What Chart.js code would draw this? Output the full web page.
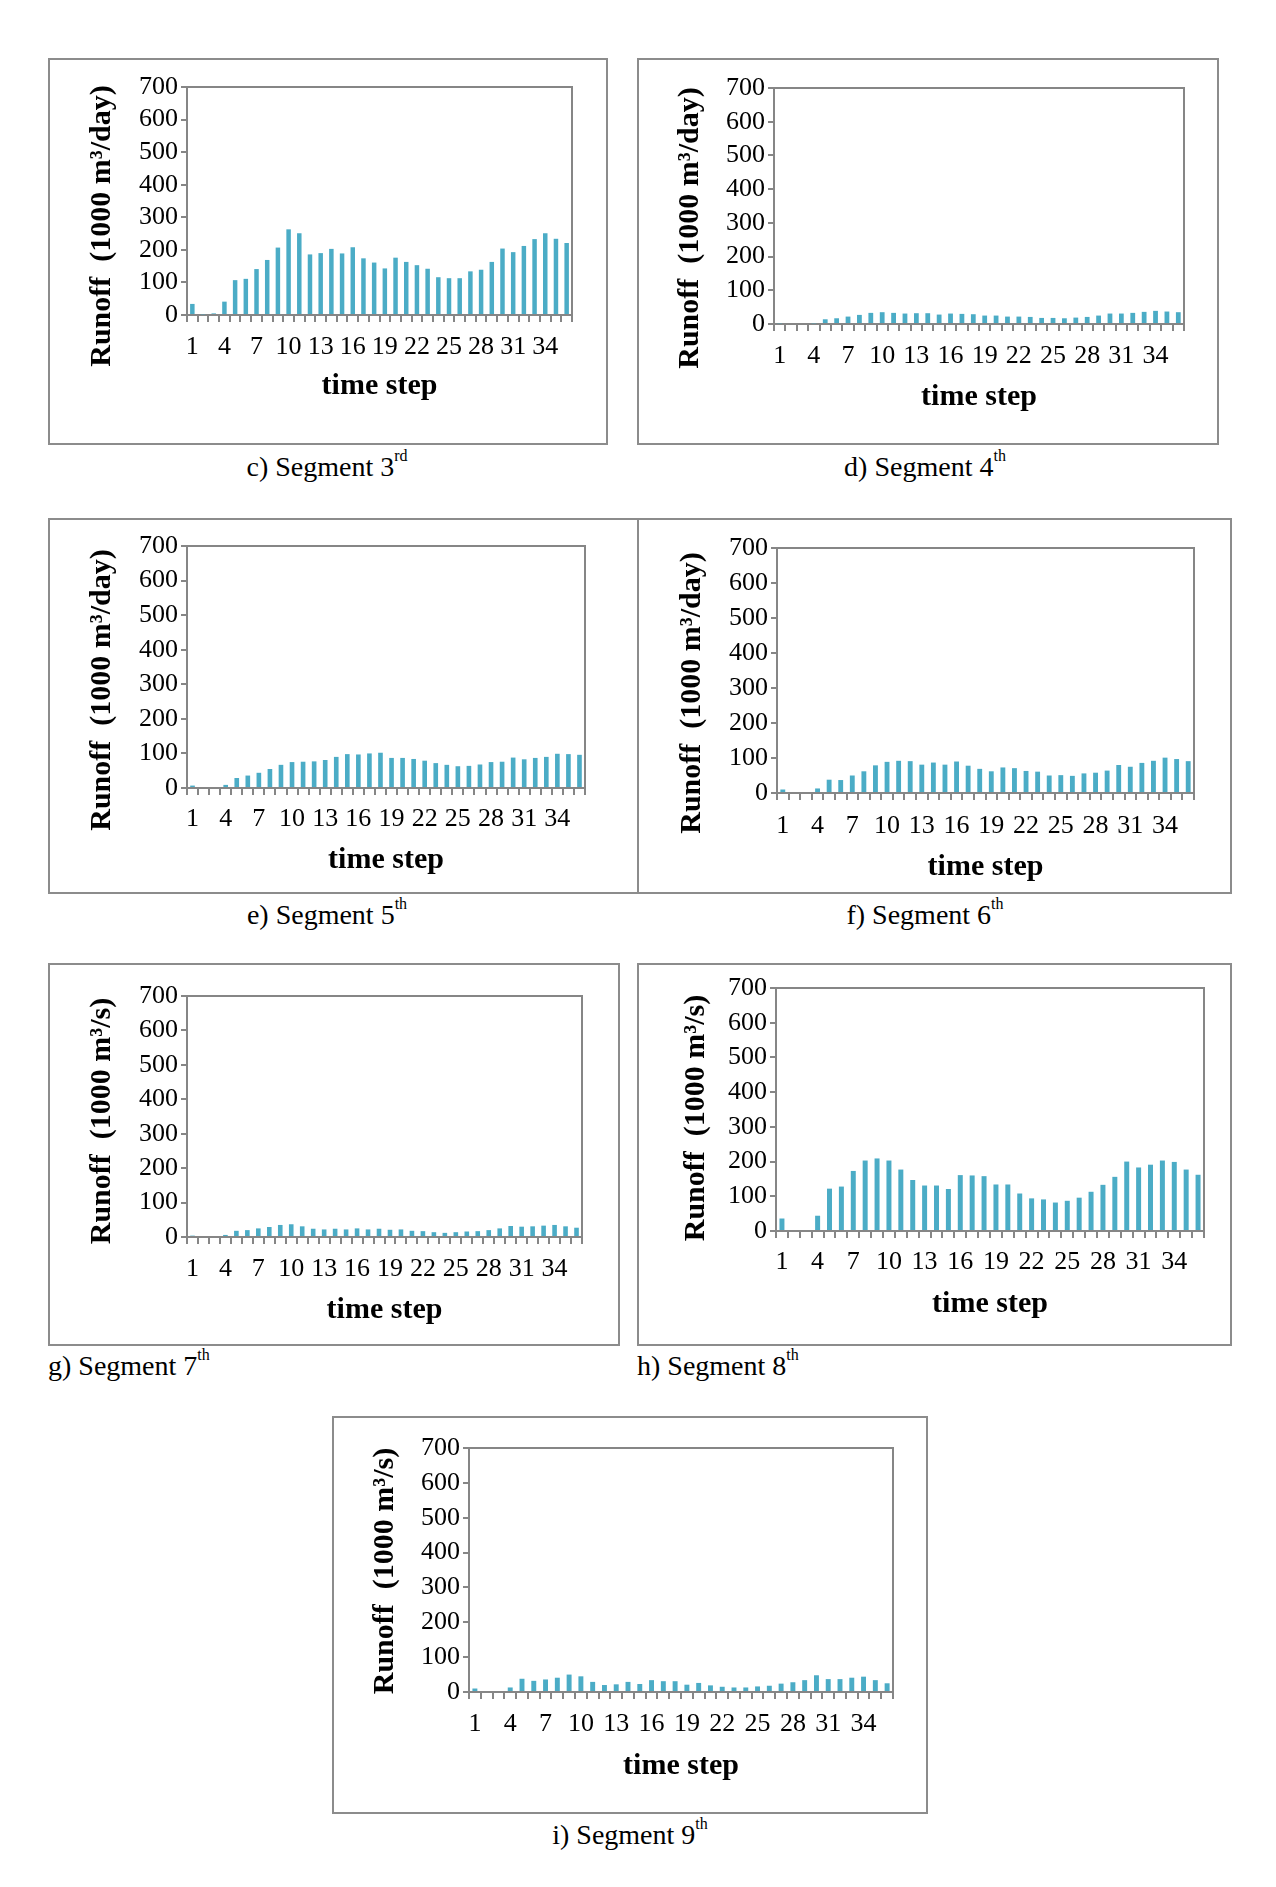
<!DOCTYPE html>
<html>
<head>
<meta charset="utf-8">
<script src="https://cdn.jsdelivr.net/npm/chart.js@4.4.1/dist/chart.umd.min.js"></script>
<style>
  body { margin: 0; background: #fff; width: 1276px; height: 1887px; position: relative; font-family: "Liberation Serif", "Times New Roman", serif; }
  .box { position: absolute; border: 2px solid #8c8c8c; box-sizing: border-box; }
  .box canvas { position: absolute; left: 0; top: 0; }
  .cap { position: absolute; font-size: 28px; white-space: nowrap; line-height: 1; color: #000; }
  .cap sup { font-size: 16px; vertical-align: top; position: relative; top: -5px; }
</style>
</head>
<body>
<script>
// time steps and visible tick labels
const timeSteps = ['1','2','3','4','5','6','7','8','9','10','11','12','13','14','15','16','17','18',
  '19','20','21','22','23','24','25','26','27','28','29','30','31','32','33','34','35','36'];
const shownLabels = ['1','4','7','10','13','16','19','22','25','28','31','34'];
const yTicks = [0, 100, 200, 300, 400, 500, 600, 700];

// runoff per segment
const seg3 = [34,2,5,41,107,111,141,169,207,263,251,186,190,203,189,208,174,161,143,176,163,153,142,116,113,113,134,139,163,204,193,212,233,251,234,221];
const seg4 = [2,0,0,2,14,17,22,27,33,35,33,31,32,32,28,31,30,29,25,25,22,22,21,18,18,17,19,21,25,31,31,33,36,39,37,35];
const seg5 = [7,0,0,9,29,36,44,55,67,75,76,77,81,90,98,97,100,102,87,87,84,79,72,67,63,64,68,75,76,88,83,87,90,99,98,96];
const seg6 = [10,0,0,13,38,37,50,62,79,89,92,91,81,87,81,90,78,69,62,73,71,63,61,50,51,49,56,58,64,80,75,86,92,101,97,91];
const seg7 = [4,0,0,6,18,20,25,29,35,37,31,24,22,24,22,25,22,24,21,22,18,17,14,12,14,16,17,20,25,32,30,31,33,35,31,27];
const seg8 = [36,0,0,44,122,128,173,203,209,203,177,147,131,131,121,161,160,158,134,134,108,94,91,82,87,96,113,133,156,200,183,191,203,199,177,162];
const seg9 = [10,0,0,13,38,32,36,41,50,45,29,20,22,29,23,34,31,31,21,26,19,15,13,13,16,18,24,28,34,48,37,37,41,44,34,25];

const titleDay = 'Runoff  (1000 m\u00b3/day)';
const titleSec = 'Runoff  (1000 m\u00b3/s)';

// page layout: box [l,t,r,b], plot [l,t,r,b], label/title centres
const panels = [
  { data: seg3, yTitle: titleDay, box: [48,58,608,445],   plot: [187,87,572,315],   xLab: 347,  xTitle: 386,  yt: [102,226],  cap: 'c) Segment 3<sup>rd</sup>', capPos: [327,467], center: true },
  { data: seg4, yTitle: titleDay, box: [637,58,1219,445], plot: [774,88,1184,324],  xLab: 356,  xTitle: 397,  yt: [690,228],  cap: 'd) Segment 4<sup>th</sup>', capPos: [925,467], center: true },
  { data: seg5, yTitle: titleDay, box: [48,518,639,894],  plot: [187,546,585,788],  xLab: 819,  xTitle: 860,  yt: [102,690],  cap: 'e) Segment 5<sup>th</sup>', capPos: [327,915], center: true },
  { data: seg6, yTitle: titleDay, box: [637,518,1232,894],plot: [777,548,1194,793], xLab: 826,  xTitle: 867,  yt: [692,693],  cap: 'f) Segment 6<sup>th</sup>', capPos: [925,915], center: true },
  { data: seg7, yTitle: titleSec, box: [48,963,620,1346], plot: [187,996,582,1237], xLab: 1269, xTitle: 1310, yt: [102,1121], cap: 'g) Segment 7<sup>th</sup>', capPos: [48,1366],  center: false },
  { data: seg8, yTitle: titleSec, box: [637,963,1232,1346],plot:[776,988,1204,1231],xLab: 1262, xTitle: 1304, yt: [696,1118], cap: 'h) Segment 8<sup>th</sup>', capPos: [637,1366], center: false },
  { data: seg9, yTitle: titleSec, box: [332,1416,928,1814],plot:[469,1448,893,1692],xLab: 1724, xTitle: 1766, yt: [385,1571], cap: 'i) Segment 9<sup>th</sup>', capPos: [630,1835], center: true }
];

const AXIS = '#868686';
const BAR = '#4bacc6';
const BORDER = 2;
const TICK_FONT = 26;
const TITLE_FONT = 30;

// rotated y title placed freely
const sideTitle = {
  id: 'sideTitle',
  afterDraw(chart, args, opts) {
    const ctx = chart.ctx;
    ctx.save();
    ctx.translate(opts.x, opts.y);
    ctx.rotate(-Math.PI / 2);
    ctx.font = 'bold ' + TITLE_FONT + 'px "Liberation Serif"';
    ctx.fillStyle = '#000';
    ctx.textAlign = 'center';
    ctx.textBaseline = 'middle';
    ctx.fillText(opts.text, 0, 0);
    ctx.restore();
  }
};

// plot-area frame (top and right edges)
const plotFrame = {
  id: 'plotFrame',
  beforeDatasetsDraw(chart) {
    const { left, top, right, bottom } = chart.chartArea;
    const ctx = chart.ctx;
    ctx.save();
    ctx.strokeStyle = AXIS;
    ctx.lineWidth = 2;
    ctx.strokeRect(left, top, right - left, bottom - top);
    ctx.restore();
  }
};

panels.forEach(p => {
  const [bl, bt, br, bb] = p.box;
  const [pl, pt, pr, pb] = p.plot;
  const ox = bl + BORDER, oy = bt + BORDER;
  const cw = br - bl - 2 * BORDER, ch = bb - bt - 2 * BORDER;

  const div = document.createElement('div');
  div.className = 'box';
  div.style.left = bl + 'px';
  div.style.top = bt + 'px';
  div.style.width = (br - bl) + 'px';
  div.style.height = (bb - bt) + 'px';
  const canvas = document.createElement('canvas');
  canvas.width = cw;
  canvas.height = ch;
  canvas.style.width = cw + 'px';
  canvas.style.height = ch + 'px';
  div.appendChild(canvas);
  document.body.appendChild(div);

  const cap = document.createElement('div');
  cap.className = 'cap';
  cap.innerHTML = p.cap;
  cap.style.left = p.capPos[0] + 'px';
  cap.style.top = p.capPos[1] + 'px';
  cap.style.transform = p.center ? 'translate(-50%, -50%)' : 'translateY(-50%)';
  document.body.appendChild(cap);

  const yWidth = pl - ox;
  const xHeight = (oy + ch) - pb;
  const tickPad = (p.xLab - pb) - 7 - TICK_FONT * 1.2 / 2;
  const titlePad = (oy + ch) - p.xTitle - TITLE_FONT * 1.2 / 2;

  new Chart(canvas.getContext('2d'), {
    type: 'bar',
    data: {
      labels: timeSteps,
      datasets: [{
        data: p.data,
        backgroundColor: BAR,
        borderWidth: 0,
        categoryPercentage: 1,
        barPercentage: 0.42
      }]
    },
    options: {
      responsive: false,
      animation: false,
      devicePixelRatio: 1,
      layout: { padding: { top: pt - oy, right: (ox + cw) - pr, left: 0, bottom: 0 } },
      plugins: {
        legend: { display: false },
        tooltip: { enabled: false },
        sideTitle: { text: p.yTitle, x: p.yt[0] - ox, y: p.yt[1] - oy }
      },
      scales: {
        x: {
          offset: true,
          grid: { offset: true, drawOnChartArea: false, drawTicks: true, tickLength: 7, color: AXIS, lineWidth: 2 },
          border: { color: AXIS, width: 2 },
          ticks: {
            autoSkip: false,
            maxRotation: 0,
            padding: tickPad,
            color: '#000',
            font: { family: 'Liberation Serif', size: TICK_FONT },
            callback: function(value) {
              const lab = this.getLabelForValue(value);
              return shownLabels.includes(lab) ? lab : '';
            }
          },
          title: {
            display: true,
            text: 'time step',
            color: '#000',
            font: { family: 'Liberation Serif', size: TITLE_FONT, weight: 'bold' },
            padding: { top: 0, bottom: titlePad }
          },
          afterFit: s => { s.height = xHeight; }
        },
        y: {
          min: yTicks[0],
          max: yTicks[yTicks.length - 1],
          grid: { drawOnChartArea: false, drawTicks: true, tickLength: 6, color: AXIS, lineWidth: 2 },
          border: { color: AXIS, width: 2 },
          ticks: {
            stepSize: yTicks[1] - yTicks[0],
            autoSkip: false,
            padding: 3,
            color: '#000',
            font: { family: 'Liberation Serif', size: TICK_FONT }
          },
          afterFit: s => { s.width = yWidth; }
        }
      }
    },
    plugins: [plotFrame, sideTitle]
  });
});
</script>
</body>
</html>
